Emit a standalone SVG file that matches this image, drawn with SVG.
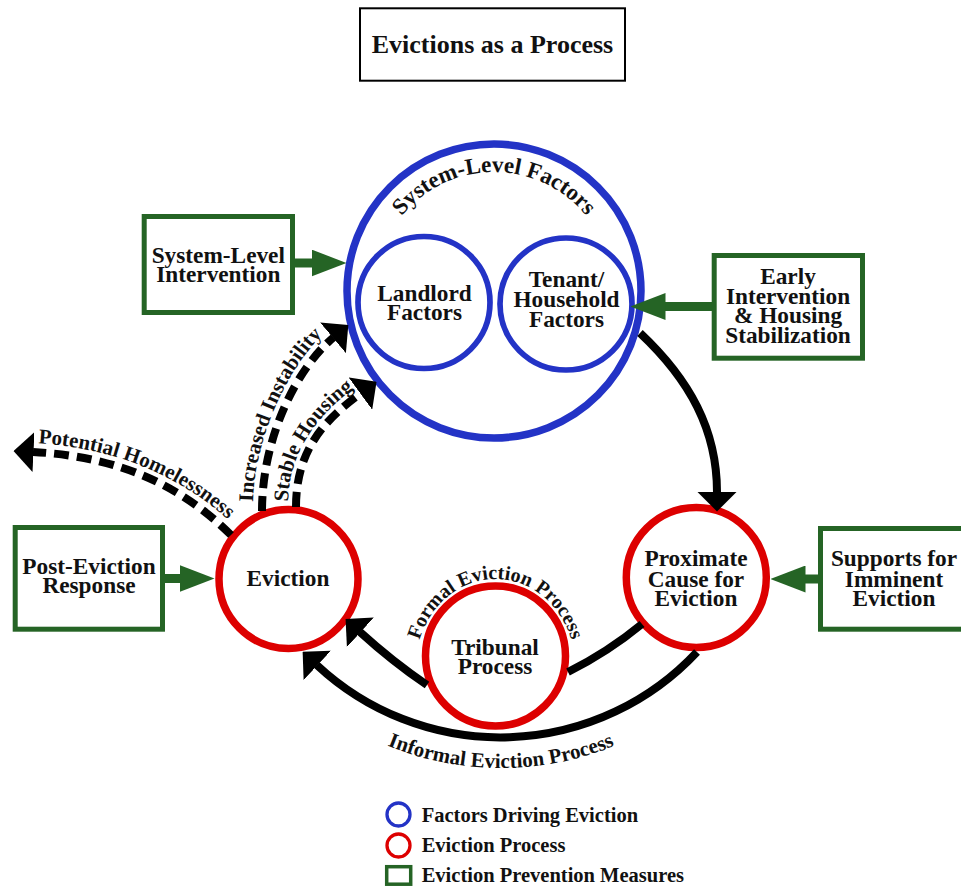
<svg xmlns="http://www.w3.org/2000/svg" width="961" height="888" viewBox="0 0 961 888">
<style>
text { font-family: "Liberation Serif", "Times New Roman", serif; font-weight: bold; fill: #111; }
.t { font-size: 23.3px; text-anchor: middle; }
.lab { font-size: 21px; }
.lg { font-size: 20.5px; }
.bigc { fill: #fff; stroke: #2333c6; stroke-width: 7.5; }
.inc { fill: #fff; stroke: #2333c6; stroke-width: 5.7; }
.red { fill: #fff; stroke: #dd0000; stroke-width: 7.5; }
.box { fill: #fff; stroke: #256425; stroke-width: 5; }
.solid { fill: none; stroke: #000; stroke-width: 8; }
.dash { fill: none; stroke: #000; stroke-width: 8; stroke-dasharray: 15 8; }
.garrow { fill: none; stroke: #256425; stroke-width: 9; }
</style>
<defs>
<marker id="ah" viewBox="0 0 20 40" refX="0.5" refY="20" markerWidth="20" markerHeight="40" markerUnits="userSpaceOnUse" orient="auto"><path d="M0,0 L20,20 L0,40 z" fill="#000"/></marker>
<marker id="gh" viewBox="0 0 35 27" refX="0.5" refY="13.5" markerWidth="35" markerHeight="27" markerUnits="userSpaceOnUse" orient="auto"><path d="M0,0 L35,13.5 L0,27 z" fill="#256425"/></marker>
<path id="p-sys" d="M 375 291 A 119 119 0 0 1 613 291"/>
<path id="p-formal" d="M 415.5 668 A 80 89 0 0 1 575.5 668"/>
<path id="p-informal" d="M 301 691.3 A 299 299 0 0 0 701 691.3"/>
<path id="p-pot" d="M 33 443 C 123 447.5, 191.4 482.6, 237.4 528.6"/>
<path id="p-inc" d="M 253 505 C 253 440, 289.3 362.8, 327.6 330.6"/>
<path id="p-stab" d="M 288 505 C 288 450, 319.7 413.3, 356.1 386.8"/>
</defs>
<rect width="961" height="888" fill="#fff"/>

<g id="n-title">
<rect x="360" y="8.3" width="265" height="72.4" fill="#fff" stroke="#000" stroke-width="2"/>
<text x="492.5" y="53" font-size="26" text-anchor="middle">Evictions as a Process</text>
</g>

<g id="n-system">
<circle class="bigc" cx="494" cy="291" r="147"/>
<text font-size="23"><textPath href="#p-sys" startOffset="50%" text-anchor="middle">System-Level Factors</textPath></text>
</g>

<g id="n-landlord">
<circle class="inc" cx="424" cy="302.5" r="66"/>
<text class="t" x="424.5" y="300.7">Landlord</text>
<text class="t" x="424.5" y="320">Factors</text>
</g>

<g id="n-tenant">
<circle class="inc" cx="566" cy="304" r="66"/>
<text class="t" x="566.5" y="286.7">Tenant/</text>
<text class="t" x="566.5" y="306.7">Household</text>
<text class="t" x="566.5" y="326.7">Factors</text>
</g>

<g id="n-eviction">
<circle class="red" cx="288.5" cy="579" r="69.5"/>
<text class="t" x="288" y="586">Eviction</text>
</g>

<g id="n-proximate">
<circle class="red" cx="696.3" cy="577.5" r="70"/>
<text class="t" x="696" y="566">Proximate</text>
<text class="t" x="696" y="586.7">Cause for</text>
<text class="t" x="696" y="606">Eviction</text>
</g>

<g id="n-tribunal">
<circle class="red" cx="495.5" cy="656" r="70"/>
<text class="t" x="495" y="655">Tribunal</text>
<text class="t" x="495" y="674">Process</text>
</g>

<g id="n-sli">
<rect class="box" x="144.2" y="216.5" width="148.3" height="96"/>
<text class="t" x="218.3" y="262.7">System-Level</text>
<text class="t" x="218.3" y="281.7">Intervention</text>
</g>

<g id="n-early">
<rect class="box" x="714.2" y="255.5" width="148.3" height="102.7"/>
<text class="t" x="788" y="284.3">Early</text>
<text class="t" x="788" y="304.3">Intervention</text>
<text class="t" x="788" y="323.3">&amp; Housing</text>
<text class="t" x="788" y="343.3">Stabilization</text>
</g>

<g id="n-post">
<rect class="box" x="15.2" y="527.5" width="147.3" height="101.7"/>
<text class="t" x="89" y="574">Post-Eviction</text>
<text class="t" x="89" y="593">Response</text>
</g>

<g id="n-supports">
<rect class="box" x="820.5" y="528.5" width="148" height="100.7"/>
<text class="t" x="894" y="566">Supports for</text>
<text class="t" x="894" y="586.7">Imminent</text>
<text class="t" x="894" y="606">Eviction</text>
</g>

<g id="connectors">
<path class="solid" d="M 640 333 C 690 380, 717 430, 717 492" marker-end="url(#ah)"/>
<path class="solid" d="M 642 624 Q 608 652 568 672"/>
<path class="solid" d="M 427 685 Q 393 662 360 632" marker-end="url(#ah)"/>
<path class="solid" d="M 697 652 A 269 269 0 0 1 316.9 665.1" marker-end="url(#ah)"/>
<path class="dash" d="M 231 535 C 185 489, 123 456.5, 33 452" marker-end="url(#ah)"/>
<path class="dash" d="M 262 511 C 262 440, 295.1 369.7, 333.4 337.5" marker-end="url(#ah)"/>
<path class="dash" d="M 296 507 C 296 450, 324.4 419.8, 360.8 393.3" marker-end="url(#ah)"/>
<path class="garrow" d="M 293 263 L 312 263" marker-end="url(#gh)"/>
<path class="garrow" d="M 163 578.5 L 180 578.5" marker-end="url(#gh)"/>
<path class="garrow" d="M 714 306.5 L 665 306.5" marker-end="url(#gh)"/>
<path class="garrow" d="M 820 579 L 805 579" marker-end="url(#gh)"/>
<text font-size="20"><textPath href="#p-formal" startOffset="50%" text-anchor="middle">Formal Eviction Process</textPath></text>
<text font-size="21"><textPath href="#p-informal" startOffset="50%" text-anchor="middle">Informal Eviction Process</textPath></text>
<text class="lab"><textPath href="#p-pot" startOffset="5">Potential Homelessness</textPath></text>
<text class="lab"><textPath href="#p-inc" startOffset="3">Increased Instability</textPath></text>
<text class="lab"><textPath href="#p-stab" startOffset="3">Stable Housing</textPath></text>
</g>

<g id="legend">
<circle cx="398.5" cy="814.5" r="11.5" fill="#fff" stroke="#2333c6" stroke-width="3.3"/>
<circle cx="398.5" cy="845.5" r="11.5" fill="#fff" stroke="#dd0000" stroke-width="3.3"/>
<rect x="386.7" y="866.7" width="24" height="17.5" fill="#fff" stroke="#256425" stroke-width="3.5"/>
<text class="lg" x="421.7" y="821.7">Factors Driving Eviction</text>
<text class="lg" x="421.7" y="851.7">Eviction Process</text>
<text class="lg" x="421.7" y="881.7">Eviction Prevention Measures</text>
</g>
</svg>
